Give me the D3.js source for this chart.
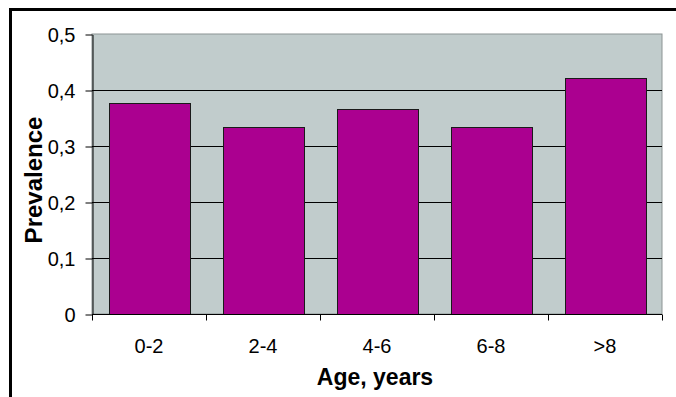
<!DOCTYPE html>
<html>
<head>
<meta charset="utf-8">
<script src="https://cdn.jsdelivr.net/npm/d3@7/dist/d3.min.js"></script>
<style>
  html, body { margin: 0; padding: 0; background: #fff; }
  svg { display: block; }
  text { font-family: "Liberation Sans", Arial, sans-serif; fill: #000; }
</style>
</head>
<body>
<svg id="chart" width="676" height="397"></svg>
<script>
// Prevalence by age group
const categories = ["0-2", "2-4", "4-6", "6-8", ">8"];
const prevalence = [0.377, 0.334, 0.366, 0.334, 0.421];
const yTicks = [0, 0.1, 0.2, 0.3, 0.4, 0.5];
const yTickLabels = ["0", "0,1", "0,2", "0,3", "0,4", "0,5"];

const svg = d3.select("#chart");
const W = 676, H = 397;
const plot = { left: 92, right: 662, top: 34, bottom: 314 };

// Frame lines along top and left
svg.append("line").attr("x1", 9).attr("x2", W).attr("y1", 9.5).attr("y2", 9.5)
  .attr("stroke", "#000").attr("stroke-width", 3);
svg.append("line").attr("x1", 10.5).attr("x2", 10.5).attr("y1", 8).attr("y2", H)
  .attr("stroke", "#000").attr("stroke-width", 3);

const x = d3.scaleBand().domain(categories).range([plot.left, plot.right])
  .paddingInner(0.29).paddingOuter(0.145);
const xOuter = d3.scaleBand().domain(categories).range([plot.left, plot.right]);
const y = d3.scaleLinear().domain([0, 0.5]).range([plot.bottom, plot.top]);

// Plot area background
svg.append("rect")
  .attr("x", plot.left).attr("y", plot.top)
  .attr("width", plot.right - plot.left).attr("height", plot.bottom - plot.top)
  .attr("fill", "#c1cccc").attr("stroke", "#8c9494").attr("stroke-width", 1);

// Horizontal gridlines
svg.append("g").selectAll("line")
  .data(yTicks.filter(v => v > 0 && v < 0.5))
  .join("line")
  .attr("x1", plot.left).attr("x2", plot.right)
  .attr("y1", d => Math.round(y(d)) + 0.5).attr("y2", d => Math.round(y(d)) + 0.5)
  .attr("stroke", "#000").attr("stroke-width", 1);

// Bars
svg.append("g").selectAll("rect")
  .data(categories.map((c, i) => ({ c, v: prevalence[i] })))
  .join("rect")
  .attr("x", d => Math.round(x(d.c)) + 0.5)
  .attr("y", d => Math.round(y(d.v)) + 0.5)
  .attr("width", Math.round(x.bandwidth()))
  .attr("height", d => Math.round(y(0)) - Math.round(y(d.v)))
  .attr("fill", "#ab0090").attr("stroke", "#1a1a1a").attr("stroke-width", 1);

// Y axis
const yAxis = d3.axisLeft(y).tickValues(yTicks)
  .tickFormat((d, i) => yTickLabels[i]).tickSize(7).tickSizeOuter(0).tickPadding(10);
const gy = svg.append("g").attr("transform", `translate(${plot.left + 0.5},0.5)`).call(yAxis);
gy.select(".domain").attr("stroke", "#000");
gy.selectAll(".tick line").attr("stroke", "#000");
gy.selectAll("text").style("font-size", "20px").attr("fill", "#000").attr("dy", "0.36em");

// X axis with ticks on category boundaries
const gx = svg.append("g").attr("transform", `translate(0,${plot.bottom + 0.5})`);
gx.append("line").attr("x1", plot.left).attr("x2", plot.right).attr("y1", 0).attr("y2", 0)
  .attr("stroke", "#000");
const boundaries = categories.map(c => xOuter(c)).concat([plot.right]);
gx.selectAll("line.tk").data(boundaries).join("line").attr("class", "tk")
  .attr("x1", d => Math.round(d) + 0.5).attr("x2", d => Math.round(d) + 0.5)
  .attr("y1", 0).attr("y2", 6).attr("stroke", "#000");
gx.selectAll("text").data(categories).join("text")
  .attr("x", d => xOuter(d) + xOuter.bandwidth() / 2)
  .attr("y", 38.5)
  .attr("text-anchor", "middle")
  .style("font-size", "20px")
  .text(d => d);

// Axis titles
svg.append("text")
  .attr("x", 375).attr("y", 385)
  .attr("text-anchor", "middle")
  .style("font-size", "23px").style("font-weight", "bold")
  .text("Age, years");
svg.append("text")
  .attr("transform", `translate(42,180) rotate(-90)`)
  .attr("text-anchor", "middle")
  .style("font-size", "24px").style("font-weight", "bold")
  .text("Prevalence");
</script>
</body>
</html>
